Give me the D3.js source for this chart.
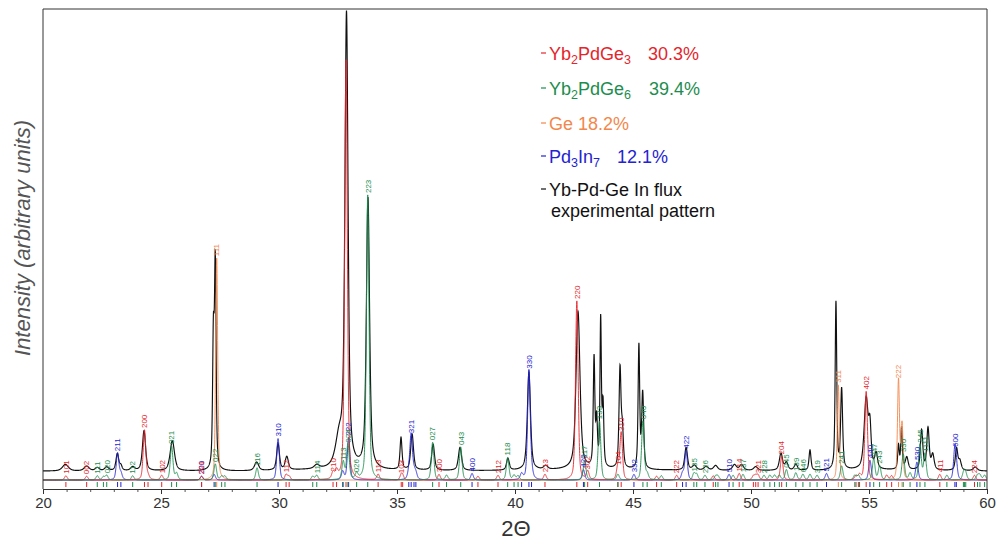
<!DOCTYPE html>
<html>
<head>
<meta charset="utf-8">
<script src="https://cdn.jsdelivr.net/npm/d3@7"></script>
<style>
  body { margin: 0; background: #fff; }
  svg { display: block; font-family: "Liberation Sans", Arial, sans-serif; }
</style>
</head>
<body>
<svg id="chart" width="998" height="541"></svg>
<script>
// ---- data -------------------------------------------------------------
const xTicks = [20, 25, 30, 35, 40, 45, 50, 55, 60];

// experimental background, [2θ, counts]
const bgPoints = [[20,19],[22,19],[24,19],[26,19],[28,19],[30,20],[31,21],[32,22],[32.4,24],[33.2,22],
  [34,20],[35,20],[38,20],[40,20],[41.5,21],[42.2,22],[43,22],[44,22],[46,21],[50,20],[53,20],[54.5,21],
  [56,21],[58,20],[60,19]];

// experimental reflections, [2θ, net counts, FWHM]
const expPeaks = [
  [20.95,14,0.3],[21.85,10,0.25],[22.3,7,0.2],[22.7,8,0.2],[23.15,36,0.14],[23.3,10,0.12],[23.8,8,0.2],
  [24.28,85,0.16],[25.48,64,0.22],[27.22,270,0.08],[27.3,430,0.08],[29.05,18,0.2],[29.96,56,0.14],
  [30.33,28,0.16],[31.6,8,0.25],[32.55,58,0.35],[32.86,960,0.16],[33.77,575,0.16],[35.17,68,0.1],
  [35.64,76,0.14],[36.53,55,0.14],[37.67,49,0.16],[39.7,25,0.14],[40.59,208,0.16],[41.3,8,0.2],
  [42.67,335,0.2],[43.35,230,0.08],[43.46,95,0.08],[43.63,310,0.07],[43.73,130,0.08],[44.45,210,0.1],
  [44.55,75,0.1],[45.25,260,0.08],[45.41,160,0.1],[47.25,48,0.14],[47.6,10,0.2],[48.1,8,0.2],
  [48.5,10,0.2],[49.3,12,0.2],[49.6,12,0.2],[50.2,8,0.2],[51.27,36,0.16],[51.5,16,0.16],
  [51.9,13,0.16],[52.5,43,0.1],[53.6,355,0.08],[53.84,170,0.1],[54.88,150,0.2],[55.04,80,0.12],
  [55.3,32,0.14],[56.25,50,0.08],[56.38,88,0.08],[56.6,26,0.14],[57.23,84,0.12],[57.5,88,0.12],
  [57.7,32,0.14],[58.71,46,0.12],[58.85,20,0.14],[59.5,8,0.2]
];

// calculated phase reflections, [2θ, intensity, hkl]
const yb2pdge3 = [
  [20.97,9,"101"],[21.85,8,"002"],[24.3,106,"200"],[24.45,8],[25.03,10,"102"],[26.72,8,"201"],
  [30.3,12,"112"],[30.43,8],[32.29,14,"210"],[32.44,16],[32.84,892],[34.2,12,"113"],[35.18,10,"103"],
  [35.24,8],[36.78,12,"300"],[38.43,8],[39.28,10,"212"],[41.27,12,"213"],[42.62,380,"220"],
  [43.08,18,"302"],[44.36,28,"104"],[44.5,100,"310"],[46.0,8],[46.85,10,"222"],[48.4,9],
  [49.5,14,"114"],[50.1,8],[50.2,8],[50.3,10,"321"],[51.3,50,"204"],[54.45,8],[54.6,10],
  [54.88,188,"402"],[55.75,10],[55.96,9],[58.0,12,"411"],[59.47,10,"224"]
];
const yb2pdge6 = [
  [22.3,9,"111"],[22.56,7],[22.7,10,"020"],[23.8,9,"112"],[25.45,72,"021"],[25.66,14],
  [27.3,34,"022"],[27.57,8],[27.71,8],[29.07,26,"116"],[31.43,8],[31.6,10,"114"],
  [32.72,38,"113"],[32.92,75,"024"],[33.29,12,"026"],[33.76,605,"223"],[36.51,80,"027"],[37.1,10],
  [37.7,70,"043"],[39.69,48,"118"],[39.96,10],[40.13,9],[42.95,42,"117"],[43.58,125,"133"],
  [44.36,12],[45.42,125,"040"],[45.6,12],[46.2,9],[47.58,14,"135"],[47.7,12],[48.05,10,"226"],
  [48.5,8],[48.6,8],[49.24,10],[49.66,12,"137"],[50.55,10,"228"],[50.8,10],[51.0,10],[51.2,10],
  [51.5,22,"045"],[51.9,15,"139"],[52.2,12,"046"],[52.5,12],[52.8,10,"319"],[53.84,30,"241"],
  [54.4,10],[54.55,10],[55.2,45,"047"],[55.45,30,"243"],[56.45,55,"330"],[56.74,14],
  [57.16,75,"245"],[57.37,55,"1111"],[58.3,10],[59.0,10],[59.05,10],[59.1,10],[59.6,10],
  [59.7,10],[59.9,10]
];
const ge = [[27.36,471,"111"],[53.7,202,"311"],[56.25,212,"222"],[56.4,117]];
const pd3in7 = [
  [23.16,57,"211"],[23.3,14],[26.72,8,"220"],[27.25,12],[29.96,88,"310"],[32.7,18],[32.95,90,"222"],
  [35.5,12],[35.6,95,"321"],[35.72,14],[35.8,12],[38.18,14,"400"],[40.28,12],[40.59,232,"330"],
  [40.7,14],[42.9,22,"420"],[45.04,12,"332"],[47.1,14],[47.25,62,"422"],[49.07,12,"510"],
  [53.2,14,"521"],[55.04,42,"440"],[57.03,38,"530"],[58.64,66,"600"],[58.7,18]
];

// legend entries (text pieces: [text, isSubscript])
const legendNames = [
  [["Yb",0],["2",1],["PdGe",0],["3",1]],
  [["Yb",0],["2",1],["PdGe",0],["6",1]],
  [["Ge 18.2%",0]],
  [["Pd",0],["3",1],["In",0],["7",1]],
  [["Yb-Pd-Ge In flux",0]]
];
const legendPercents = ["30.3%", "39.4%", "", "12.1%", ""];

// ---- drawing ----------------------------------------------------------
const svg = d3.select("#chart");
const L = 43, R = 987, T = 9, B = 489;
const x = d3.scaleLinear().domain([20, 60]).range([L, R]);
const y = d3.scaleLinear().domain([0, 1000]).range([480, T]);

const colors = { red: "#e4252c", green: "#1c8d4e", orange: "#f2874c", blue: "#2323d2", black: "#111" };

svg.append("defs").append("clipPath").attr("id", "plot")
  .append("rect").attr("x", L).attr("y", T).attr("width", R - L).attr("height", B - T);

// pseudo-Voigt line profile
function pv(t, c, h, w, eta) {
  const d = (t - c) / (w / 2);
  return h * (eta / (1 + d * d) + (1 - eta) * Math.exp(-Math.LN2 * d * d));
}
const grid = d3.range(20, 60.0001, 0.005);
const bg = d3.scaleLinear().domain(bgPoints.map(d => d[0])).range(bgPoints.map(d => d[1]));

const line = d3.line().x(d => x(d[0])).y(d => y(d[1]));
const g = svg.append("g").attr("clip-path", "url(#plot)");

// experimental pattern
const expData = grid.map(t => {
  let v = bg(t);
  for (const p of expPeaks) if (Math.abs(t - p[0]) < 4) v += pv(t, p[0], p[1], p[2], 0.6);
  return [t, v];
});
g.append("path").datum(expData).attr("d", line)
  .attr("fill", "none").attr("stroke", colors.black).attr("stroke-width", 1.15);

// calculated phase curves
const phases = [
  { refl: ge, color: colors.orange, w: 0.1 },
  { refl: pd3in7, color: colors.blue, w: 0.13 },
  { refl: yb2pdge3, color: colors.red, w: 0.13 },
  { refl: yb2pdge6, color: colors.green, w: 0.13 }
];
phases.forEach(ph => {
  const data = grid.map(t => {
    let v = 0;
    for (const p of ph.refl) if (Math.abs(t - p[0]) < 2) v += pv(t, p[0], p[1], ph.w, 0.4);
    return [t, v];
  });
  g.append("path").datum(data).attr("d", line)
    .attr("fill", "none").attr("stroke", ph.color).attr("stroke-width", 1).attr("stroke-opacity", 0.9);
});

// hkl labels above calculated reflections
phases.forEach(ph => {
  g.selectAll(null).data(ph.refl.filter(p => p[2])).join("text")
    .attr("transform", p => `translate(${x(p[0]) + 2.8},${y(p[1]) - 2}) rotate(-90)`)
    .attr("font-size", 8).attr("fill", ph.color).text(p => p[2]);
});

// reflection position markers
phases.forEach(ph => {
  svg.append("g").selectAll("line").data(ph.refl).join("line")
    .attr("x1", p => x(p[0])).attr("x2", p => x(p[0]))
    .attr("y1", 482).attr("y2", 487)
    .attr("stroke", ph.color).attr("stroke-width", 1);
});

// frame
svg.append("path")
  .attr("d", `M${L},${B}V${T}H${R}V${B}`)
  .attr("fill", "none").attr("stroke", "#333").attr("stroke-width", 1);

// x axis
const minor = svg.append("g").attr("transform", `translate(0,${B})`)
  .call(d3.axisBottom(x).ticks(40).tickSize(3).tickFormat(""));
minor.select(".domain").remove();
minor.selectAll("line").attr("stroke", "#555");
const ax = svg.append("g").attr("transform", `translate(0,${B})`)
  .call(d3.axisBottom(x).tickValues(xTicks).tickSize(5).tickSizeOuter(0).tickFormat(d3.format("d")));
ax.select(".domain").attr("stroke", "#333");
ax.selectAll("line").attr("stroke", "#333");
ax.selectAll("text").attr("font-size", 15).attr("fill", "#333")
  .attr("font-family", "Liberation Sans, Arial, sans-serif");

svg.append("text").attr("x", 516).attr("y", 536).attr("text-anchor", "middle")
  .attr("font-size", 22).attr("fill", "#333").text("2Θ");

svg.append("text").attr("transform", "translate(30,238) rotate(-90)")
  .attr("text-anchor", "middle").attr("font-size", 22).attr("font-style", "italic")
  .attr("fill", "#555").text("Intensity (arbitrary units)");

// legend
const legendColors = [colors.red, colors.green, colors.orange, colors.blue, colors.black];
const legendY = [60, 95, 130, 163, 196];
const percentX = [648, 649, 0, 617, 0];
legendNames.forEach((parts, i) => {
  const c = legendColors[i];
  svg.append("line").attr("x1", 541).attr("x2", 546)
    .attr("y1", legendY[i] - 7).attr("y2", legendY[i] - 7).attr("stroke", c).attr("stroke-width", 1.2);
  const t = svg.append("text").attr("x", 549).attr("y", legendY[i]).attr("font-size", 18).attr("fill", c);
  parts.forEach(([s, sub], k) => {
    const ts = t.append("tspan").text(s);
    if (sub) ts.attr("font-size", 12.5).attr("dy", 4);
    else if (k > 0 && parts[k - 1][1]) ts.attr("dy", -4);
  });
  if (legendPercents[i]) {
    svg.append("text").attr("x", percentX[i]).attr("y", legendY[i]).attr("font-size", 18)
      .attr("fill", c).text(legendPercents[i]);
  }
});
svg.append("text").attr("x", 551).attr("y", 217).attr("font-size", 18).attr("fill", colors.black)
  .text("experimental pattern");
</script>
</body>
</html>
